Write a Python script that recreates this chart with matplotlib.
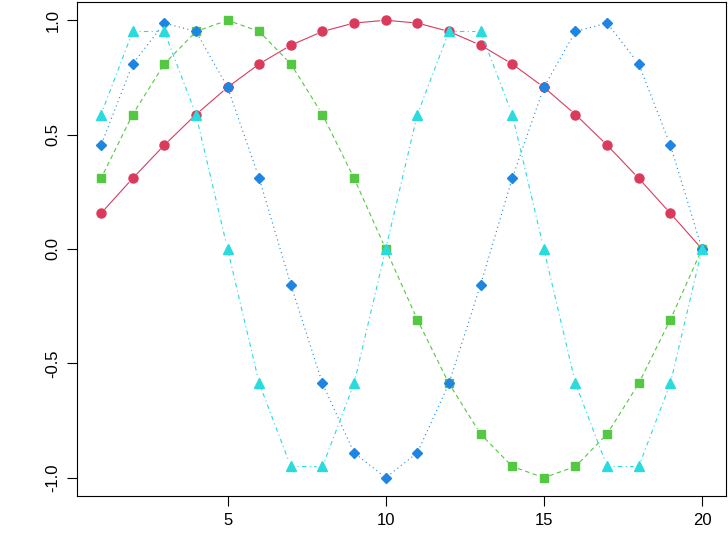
import numpy as np
import matplotlib.pyplot as plt

x = list(range(1, 21))
red = [0.156, 0.309, 0.454, 0.588, 0.707, 0.809, 0.891, 0.951, 0.988, 1.0,
       0.988, 0.951, 0.891, 0.809, 0.707, 0.588, 0.454, 0.309, 0.156, 0.0]
green = [0.309, 0.588, 0.809, 0.951, 1.0, 0.951, 0.809, 0.588, 0.309, 0.0,
         -0.309, -0.588, -0.809, -0.951, -1.0, -0.951, -0.809, -0.588, -0.309, 0.0]
blue = [0.454, 0.809, 0.988, 0.951, 0.707, 0.309, -0.156, -0.588, -0.891, -1.0,
        -0.891, -0.588, -0.156, 0.309, 0.707, 0.951, 0.988, 0.809, 0.454, 0.0]
cyan = [0.588, 0.951, 0.951, 0.588, 0.0, -0.588, -0.951, -0.951, -0.588, 0.0,
        0.588, 0.951, 0.951, 0.588, 0.0, -0.588, -0.951, -0.951, -0.588, 0.0]

xticks = [5, 10, 15, 20]
yticks = [-1.0, -0.5, 0.0, 0.5, 1.0]

plt.rcParams['font.family'] = ['Liberation Sans', 'DejaVu Sans']

fig = plt.figure(figsize=(7.28, 5.35), dpi=100)
ax = fig.add_axes([0.1058, 0.0729, 0.8915, 0.9234])
ax.set_xlim(0.24, 20.76)
ax.set_ylim(-1.08, 1.08)


def lines_with_gaps(xs, ys, gap, **kw):
    # R type="b": line segments stop short of the points
    pts = ax.transData.transform(np.column_stack([xs, ys]))
    inv = ax.transData.inverted()
    for p, q in zip(pts[:-1], pts[1:]):
        d = q - p
        n = np.hypot(*d)
        if n <= 2 * gap:
            continue
        u = d / n
        seg = inv.transform(np.array([p + u * gap, q - u * gap]))
        ax.plot(seg[:, 0], seg[:, 1], **kw)


lw = 0.8
series = [
    (red, '#DA3B5C', '-', 'o', 6.5),
    (green, '#55C843', (0, (4, 3)), 's', 6),
    (blue, '#1E86E2', (0, (1, 3)), 'D', 5.5),
    (cyan, '#2ADBDE', (0, (1, 3, 4, 3)), '^', 7.5),
]
for ys, col, ls, mk, ms in series:
    lines_with_gaps(x, ys, 6, color=col, linestyle=ls, lw=lw)
    ax.plot(x, ys, color=col, linestyle='none', marker=mk, markersize=ms)

ax.set_xticks(xticks)
ax.set_xticklabels([str(t) for t in xticks])
ax.set_yticks(yticks)
ax.set_yticklabels(['%.1f' % t for t in yticks], rotation=90, va='center')
ax.tick_params(direction='out', length=7, width=0.8, labelsize=12, pad=5)
for s in ax.spines.values():
    s.set_linewidth(0.8)

fig.savefig('out.png', dpi=100)
